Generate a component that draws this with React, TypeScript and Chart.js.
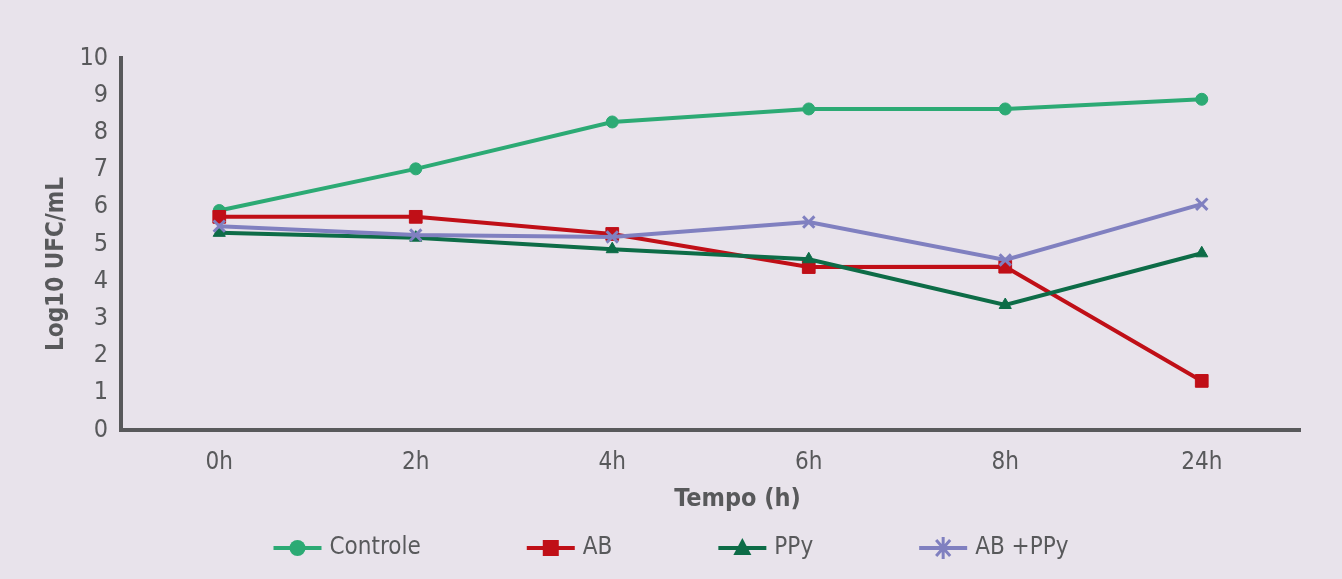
import React, { useEffect, useRef } from "react";
import { Chart, registerables } from "chart.js";

Chart.register(...registerables);

const categories = ["0h", "2h", "4h", "6h", "8h", "24h"];
const controle = [5.9, 7.02, 8.28, 8.63, 8.63, 8.89];
const ab = [5.73, 5.73, 5.27, 4.38, 4.39, 1.32];
const ppy = [5.3, 5.17, 4.86, 4.59, 3.36, 4.75];
const abPpy = [5.48, 5.24, 5.19, 5.59, 4.57, 6.07];
const yTicks = [0, 1, 2, 3, 4, 5, 6, 7, 8, 9, 10];
const xTitle = "Tempo (h)";
const yTitle = "Log10 UFC/mL";

const BG = "#E8E3EB";
const TEXT = "#58595B";
const FONT = "'DejaVu Sans Condensed', 'Liberation Sans Narrow', 'Liberation Sans', sans-serif";

// Axis titles, placed relative to the plot area.
const axisTitles = {
  id: "axisTitles",
  afterDraw(chart: any) {
    const ctx = chart.ctx as CanvasRenderingContext2D;
    const area = chart.chartArea;
    ctx.save();
    ctx.fillStyle = TEXT;
    ctx.textAlign = "center";
    ctx.textBaseline = "middle";
    ctx.font = `bold 25px ${FONT}`;
    ctx.fillText(xTitle, (area.left + area.right) / 2 + 27, area.bottom + 69);
    ctx.translate(57, (area.top + area.bottom) / 2 + 20);
    ctx.rotate(-Math.PI / 2);
    ctx.font = `bold 24px ${FONT}`;
    ctx.fillText(yTitle, 0, 0);
    ctx.restore();
  },
};

// Legend drawn as a single centred row: a short line with the series marker, then its label.
const lineLegend = {
  id: "lineLegend",
  afterDraw(chart: any) {
    const ctx = chart.ctx as CanvasRenderingContext2D;
    const sets = chart.data.datasets;
    const lineLen = 48;
    const gapText = 8;
    const gapItem = 106;
    ctx.save();
    ctx.font = `24px ${FONT}`;
    const widths = sets.map((d: any) => lineLen + gapText + ctx.measureText(d.label).width);
    const total = widths.reduce((a: number, b: number) => a + b, 0) + gapItem * (sets.length - 1);
    let x = (chart.width - total) / 2;
    const y = 548;
    sets.forEach((d: any, i: number) => {
      const color = d.borderColor;
      ctx.strokeStyle = color;
      ctx.fillStyle = color;
      ctx.lineWidth = 4;
      ctx.beginPath();
      ctx.moveTo(x, y);
      ctx.lineTo(x + lineLen, y);
      ctx.stroke();
      const cx = x + lineLen / 2;
      const style = d.pointStyle;
      if (style === "circle") {
        ctx.beginPath();
        ctx.arc(cx, y, 8, 0, Math.PI * 2);
        ctx.fill();
      } else if (style === "rect") {
        ctx.fillRect(cx - 8, y - 8, 16, 16);
      } else if (style === "triangle") {
        ctx.beginPath();
        ctx.moveTo(cx, y - 10);
        ctx.lineTo(cx + 9, y + 7);
        ctx.lineTo(cx - 9, y + 7);
        ctx.closePath();
        ctx.fill();
      } else if (style === "crossRot") {
        ctx.lineWidth = 3;
        ctx.beginPath();
        ctx.moveTo(cx, y - 11);
        ctx.lineTo(cx, y + 11);
        ctx.moveTo(cx - 7, y - 8);
        ctx.lineTo(cx + 7, y + 8);
        ctx.moveTo(cx + 7, y - 8);
        ctx.lineTo(cx - 7, y + 8);
        ctx.stroke();
      }
      ctx.fillStyle = TEXT;
      ctx.textBaseline = "middle";
      ctx.textAlign = "left";
      ctx.fillText(d.label, x + lineLen + gapText, y);
      x += widths[i] + gapItem;
    });
    ctx.restore();
  },
};

const background = {
  id: "background",
  beforeDraw(chart: any) {
    const ctx = chart.ctx;
    ctx.save();
    ctx.fillStyle = BG;
    ctx.fillRect(0, 0, chart.width, chart.height);
    ctx.restore();
  },
};

export default function App() {
  const ref = useRef<HTMLCanvasElement | null>(null);

  useEffect(() => {
    if (!ref.current) return;
    const series = (label: string, data: number[], color: string, pointStyle: string, radius: number, order: number) => ({
      label,
      data,
      borderColor: color,
      backgroundColor: color,
      pointBackgroundColor: color,
      pointBorderColor: color,
      pointStyle,
      pointRadius: radius,
      pointBorderWidth: pointStyle === "crossRot" ? 3 : 1,
      borderWidth: 4,
      tension: 0,
      order,
    });
    const chart = new Chart(ref.current, {
      type: "line",
      data: {
        labels: categories,
        datasets: [
          series("Controle", controle, "#2CAA74", "circle", 6, 4),
          series("AB", ab, "#C00F17", "rect", 9, 3),
          series("PPy", ppy, "#0D6C47", "triangle", 7, 2),
          series("AB +PPy", abPpy, "#8080C0", "crossRot", 8, 1),
        ] as any,
      },
      options: {
        animation: false,
        responsive: true,
        maintainAspectRatio: false,
        layout: { padding: { top: 58, right: 42, bottom: 59, left: 0 } },
        plugins: {
          legend: { display: false },
          tooltip: { enabled: false },
        },
        scales: {
          x: {
            offset: true,
            grid: { display: false, drawTicks: false },
            border: { display: true, color: "#58595B", width: 4 },
            ticks: {
              color: TEXT,
              font: { family: FONT, size: 24 },
              padding: 18,
              maxRotation: 0,
            },
            afterFit(s: any) {
              s.height = 90;
            },
          },
          y: {
            min: 0,
            max: 10,
            afterBuildTicks(s: any) {
              s.ticks = yTicks.map((v) => ({ value: v }));
            },
            grid: { display: false, drawTicks: false },
            border: { display: true, color: "#58595B", width: 4 },
            ticks: {
              color: TEXT,
              font: { family: FONT, size: 25 },
              padding: 13,
            },
            afterFit(s: any) {
              s.width = 121;
            },
          },
        },
      },
      plugins: [background, axisTitles, lineLegend],
    });
    return () => chart.destroy();
  }, []);

  return (
    <div style={{ position: "fixed", left: 0, top: 0, width: 1342, height: 579, background: BG }}>
      <canvas ref={ref} />
    </div>
  );
}
